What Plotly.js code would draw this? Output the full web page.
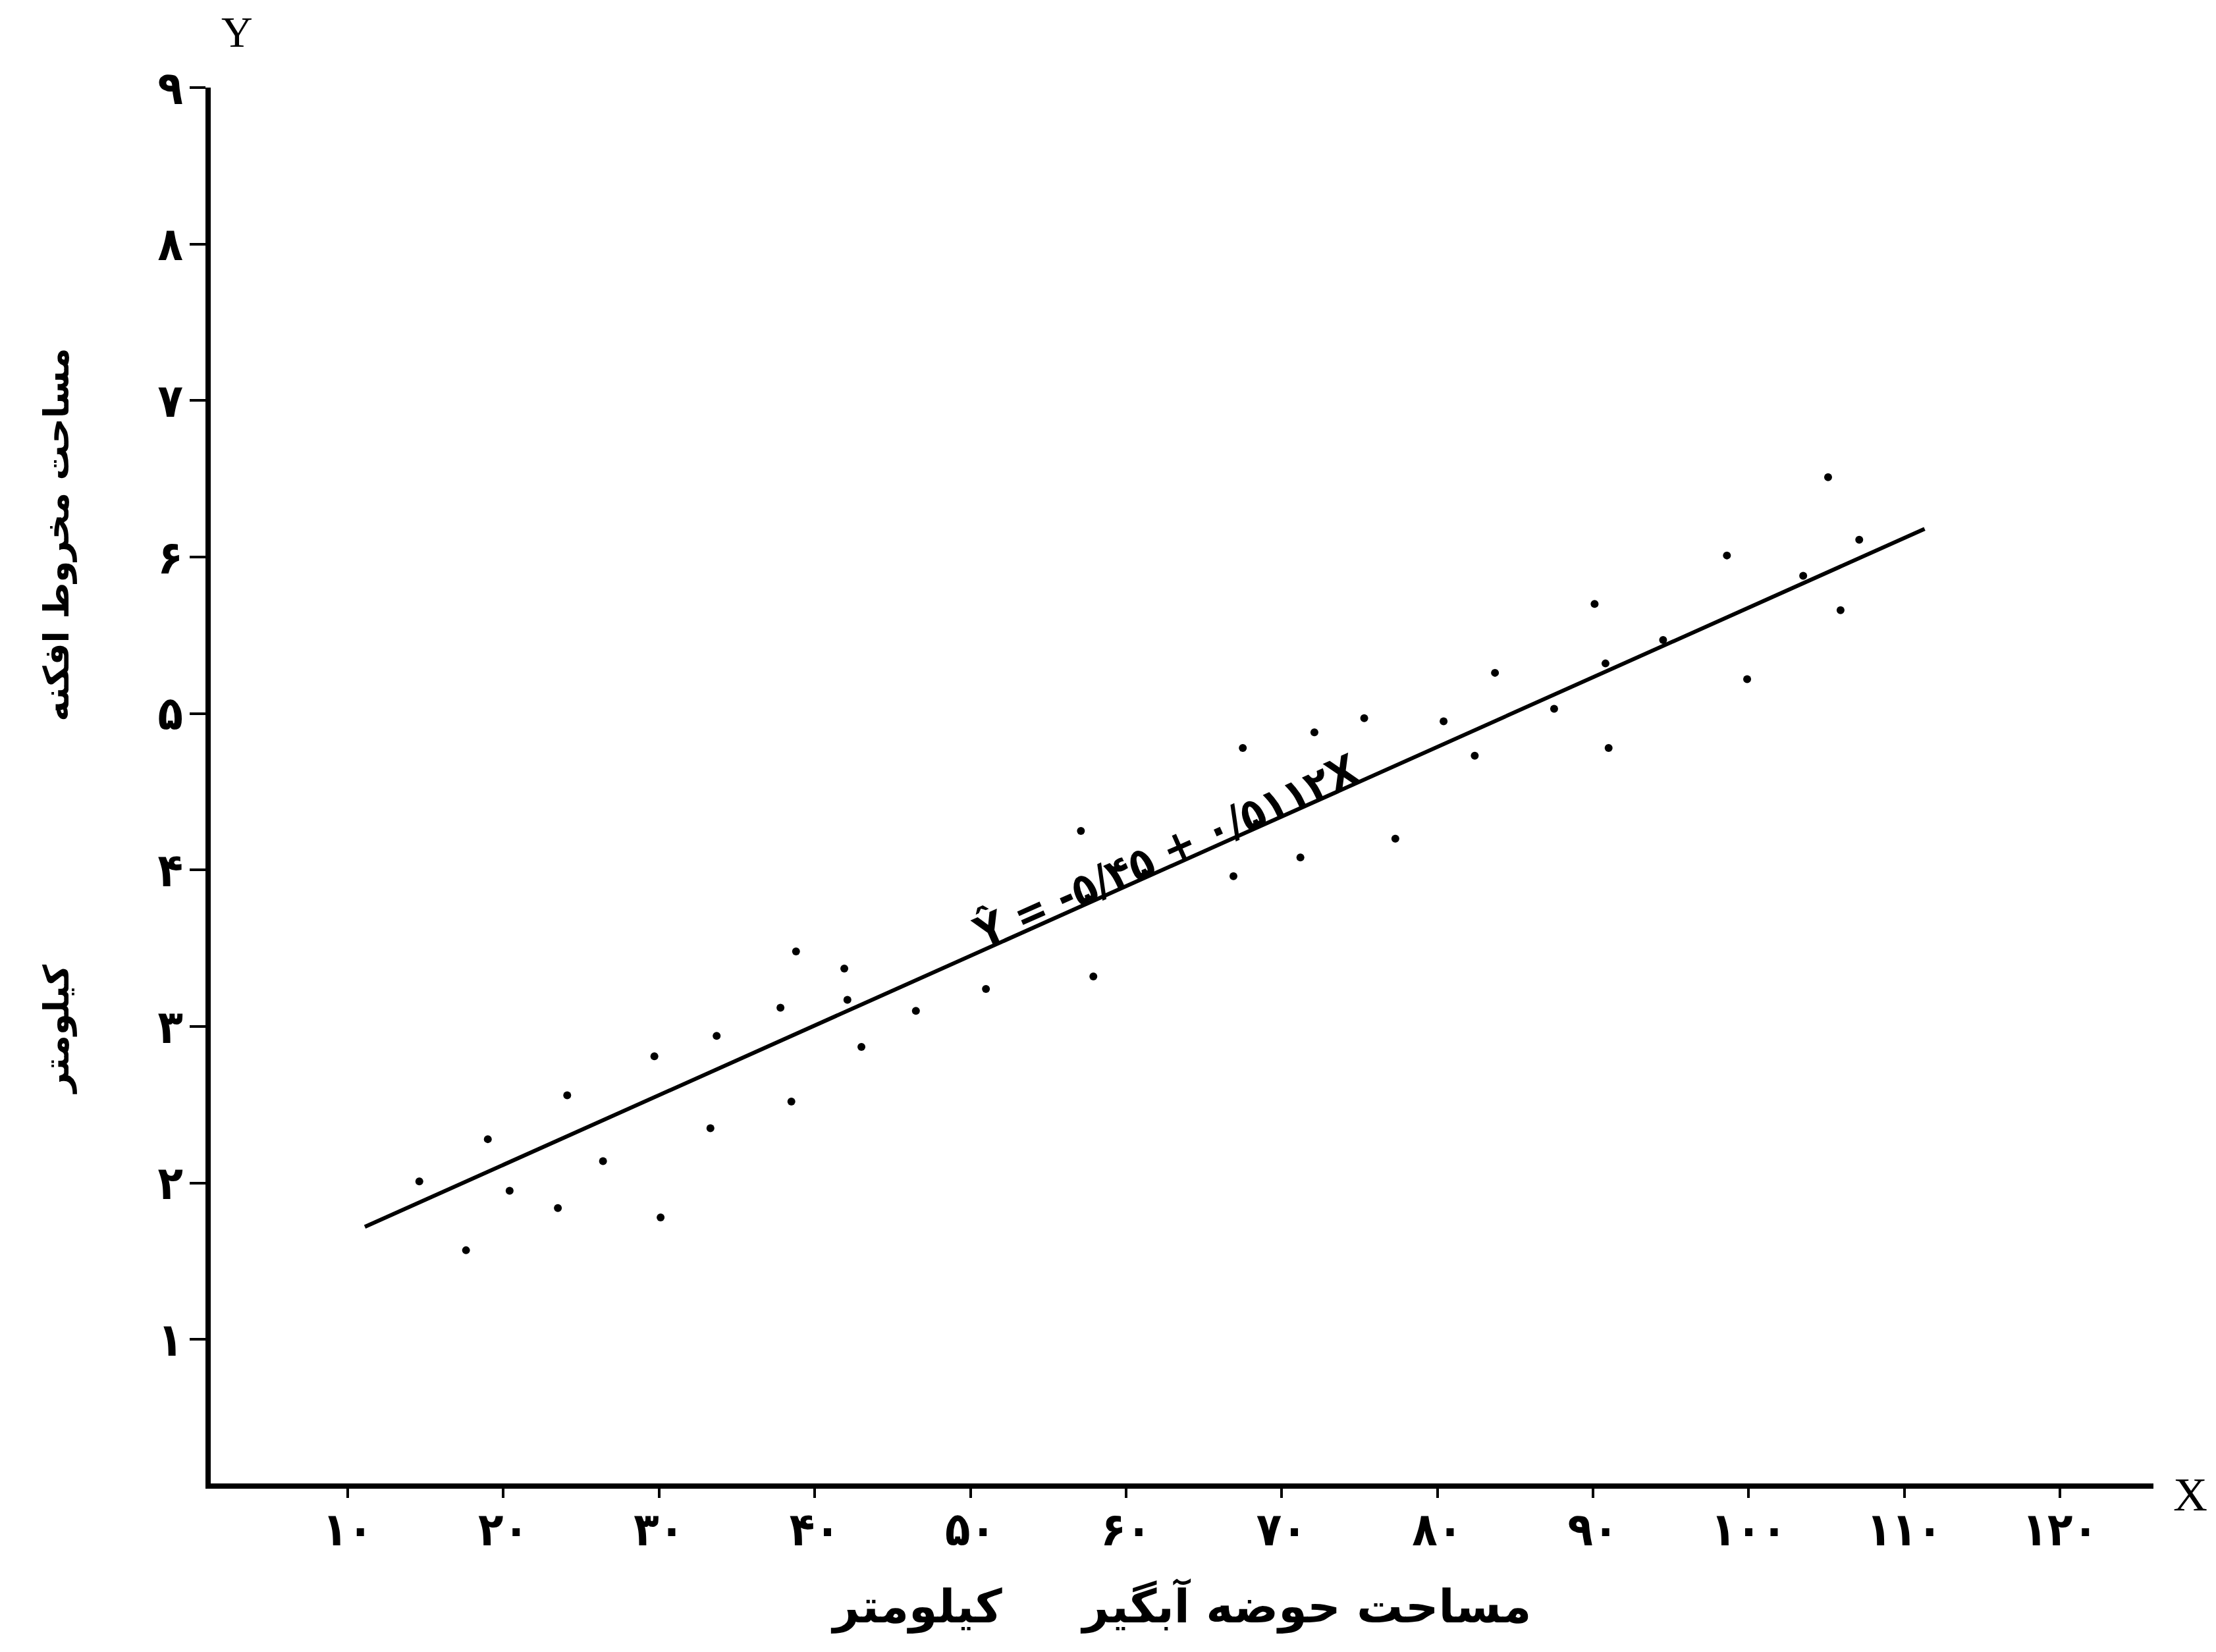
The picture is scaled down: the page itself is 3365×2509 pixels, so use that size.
<!DOCTYPE html>
<html>
<head>
<meta charset="utf-8">
<script src="https://cdn.plot.ly/plotly-3.0.1.min.js"></script>
<style>
  html, body { margin: 0; padding: 0; background: #ffffff; }
  #chart { width: 3365px; height: 2509px; }
</style>
</head>
<body>
<div id="chart"></div>
<script>
// ---- data ----
const catchmentArea = [14.6, 17.6, 19.0, 20.4, 23.5, 24.1, 26.4, 29.7, 30.1, 33.3,
                       33.7, 37.8, 38.5, 38.8, 41.9, 42.1, 43.0, 46.5, 51.0, 57.1,
                       57.9, 66.9, 67.5, 71.2, 72.1, 75.3, 77.3, 80.4, 82.4, 83.7,
                       87.5, 90.1, 90.8, 91.0, 94.5, 98.6, 99.9, 103.5, 105.1, 105.9, 107.1];
const fanArea       = [2.01, 1.57, 2.28, 1.95, 1.84, 2.56, 2.14, 2.81, 1.78, 2.35,
                       2.94, 3.12, 2.52, 3.48, 3.37, 3.17, 2.87, 3.10, 3.24, 4.25,
                       3.32, 3.96, 4.78, 4.08, 4.88, 4.97, 4.20, 4.95, 4.73, 5.26,
                       5.03, 5.70, 5.32, 4.78, 5.47, 6.01, 5.22, 5.88, 6.51, 5.66, 6.11];
const fitLineX = [11.1, 111.3];
const fitLineY = [1.72, 6.18];

const xTickVals = [10, 20, 30, 40, 50, 60, 70, 80, 90, 100, 110, 120];
const xTickText = ['۱۰', '۲۰', '۳۰', '۴۰', '۵۰', '۶۰', '۷۰', '۸۰', '۹۰', '۱۰۰', '۱۱۰', '۱۲۰'];
const yTickVals = [1, 2, 3, 4, 5, 6, 7, 8, 9];
const yTickText = ['۱', '۲', '۳', '۴', '۵', '۶', '۷', '۸', '۹'];

const equationText = 'Ŷ = -۵/۴۵ + ۰/۵۱۱۲X';
const xTitleText = 'مساحت حوضه آبگیر' + '\u00a0'.repeat(5) + 'کیلومتر';
const yTitleText = 'مساحت مخروط افکنه' + '\u00a0'.repeat(20) + 'کیلومتر';

// ---- chart ----
const FONT = 'DejaVu Sans, Noto Sans, sans-serif';
const TICKFONT = 'DejaVu Sans Condensed, DejaVu Sans, sans-serif';

const traces = [
  {
    type: 'scatter',
    mode: 'markers',
    x: catchmentArea,
    y: fanArea,
    marker: { color: '#000000', size: 12, symbol: 'circle' },
    hoverinfo: 'x+y',
    showlegend: false,
    cliponaxis: false
  },
  {
    type: 'scatter',
    mode: 'lines',
    x: fitLineX,
    y: fitLineY,
    line: { color: '#000000', width: 6 },
    showlegend: false
  }
];

const layout = {
  width: 3365,
  height: 2509,
  paper_bgcolor: '#ffffff',
  plot_bgcolor: '#ffffff',
  margin: { l: 320, r: 95, t: 133, b: 256 },
  showlegend: false,
  font: { family: FONT, color: '#000000', size: 56 },
  xaxis: {
    range: [1.2, 126],
    showgrid: false,
    zeroline: false,
    showline: true,
    linecolor: '#000000',
    linewidth: 8,
    ticks: 'outside',
    ticklen: 14,
    tickwidth: 4,
    tickcolor: '#000000',
    tickvals: xTickVals,
    ticktext: xTickText,
    tickfont: { family: TICKFONT, size: 70, color: '#000000', weight: 'bold' },
    ticklabelstandoff: -12,
    automargin: false,
    title: {
      text: xTitleText,
      font: { family: FONT, size: 70, color: '#000000', weight: 'bold' },
      standoff: 55
    }
  },
  yaxis: {
    range: [0.08, 9.0],
    showgrid: false,
    zeroline: false,
    showline: true,
    linecolor: '#000000',
    linewidth: 8,
    ticks: 'outside',
    ticklen: 24,
    tickwidth: 4,
    tickcolor: '#000000',
    tickvals: yTickVals,
    ticktext: yTickText,
    tickfont: { family: TICKFONT, size: 70, color: '#000000', weight: 'bold' },
    ticklabelstandoff: -4,
    automargin: false
  },
  annotations: [
    {
      // y axis title, placed like the reference (above the middle of the axis)
      xref: 'paper', yref: 'paper',
      x: -0.0793, y: 0.546,
      text: yTitleText,
      showarrow: false,
      textangle: -90,
      xanchor: 'center', yanchor: 'middle',
      font: { family: FONT, size: 53, color: '#000000', weight: 'bold' }
    },
    {
      xref: 'x', yref: 'y',
      x: 62.6, y: 4.12,
      text: equationText,
      showarrow: false,
      textangle: -24,
      xanchor: 'center', yanchor: 'middle',
      font: { family: TICKFONT, size: 66, color: '#000000', weight: 'bold' }
    },
    {
      xref: 'paper', yref: 'paper',
      x: 0.0136, y: 1.040,
      text: 'Y',
      showarrow: false,
      xanchor: 'center', yanchor: 'middle',
      font: { family: 'Liberation Serif, serif', size: 66, color: '#000000' }
    },
    {
      xref: 'paper', yref: 'paper',
      x: 1.019, y: -0.008,
      text: 'X',
      showarrow: false,
      xanchor: 'center', yanchor: 'middle',
      font: { family: 'Liberation Serif, serif', size: 72, color: '#000000' }
    }
  ]
};

Plotly.newPlot('chart', traces, layout, { displayModeBar: false, staticPlot: true });
</script>
</body>
</html>
